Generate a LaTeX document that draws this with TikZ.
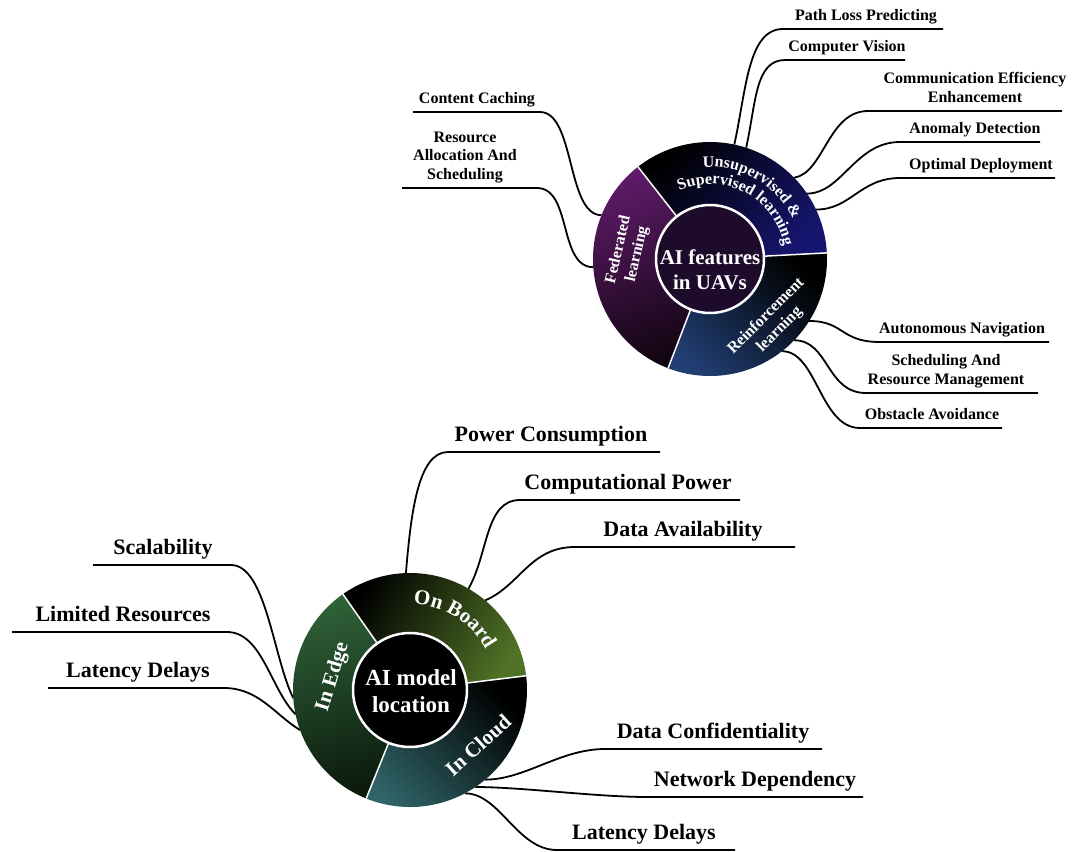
\documentclass[tikz,border=0pt]{standalone}
\usepackage{fontspec}
\setmainfont{Liberation Serif}
\usetikzlibrary{decorations.text}
\definecolor{unsupC}{HTML}{15156E}
\definecolor{fedC}{HTML}{5E1B68}
\definecolor{fedD}{HTML}{120512}
\definecolor{reinC}{HTML}{213E72}
\definecolor{innerA}{HTML}{1E0B2C}
\definecolor{onbC}{HTML}{4F7226}
\definecolor{edgeC}{HTML}{2F6238}
\definecolor{edgeD}{HTML}{0B1A0D}
\definecolor{cloudC}{HTML}{306467}
\begin{document}
\begin{tikzpicture}[x=1pt,y=1pt,
  conn/.style={line width=1.8pt, black, line join=round},
  leafA/.style={anchor=south, inner sep=0pt, align=center, font=\fontsize{16}{18.5}\selectfont\bfseries, execute at end node=\strut},
  leafB/.style={anchor=south, inner sep=0pt, align=center, font=\fontsize{22}{26}\selectfont\bfseries, execute at end node=\strut},
  seglabA/.style={text=white, align=center, inner sep=0pt, font=\fontsize{16}{19}\selectfont\bfseries},
  seglabB/.style={text=white, align=center, inner sep=0pt, font=\fontsize{21}{25}\selectfont\bfseries},
  divider/.style={white, line width=1.5pt},
  hub/.style={circle, inner sep=0pt, outer sep=0pt, minimum size=234pt},
]
\useasboundingbox (0,0) rectangle (1072,-852);
\fill[white] (0,0) rectangle (1072,-852);

\coordinate (c1) at (710,-259);
\coordinate (c2) at (410,-690);
\node[hub] (cA) at (c1) {};
\node[hub] (cB) at (c2) {};

% ---------- top leaves ----------
\coordinate (pl1) at (783,-29); \coordinate (pl2) at (943,-29);
\node[leafA] (pl) at (866,-26) {Path Loss Predicting};
\draw[conn] (pl2) -- (pl1) .. controls +(-35,0) and +(12,55) .. (cA.78);

\coordinate (cv1) at (785,-60); \coordinate (cv2) at (905,-60);
\node[leafA] (cv) at (847,-57) {Computer Vision};
\draw[conn] (cv2) -- (cv1) .. controls +(-30,0) and +(10,45) .. (cA.72);

\coordinate (ce1) at (868,-111); \coordinate (ce2) at (1062,-111);
\node[leafA] (ce) at (975,-108) {Communication Efficiency\\Enhancement};
\draw[conn] (ce2) -- (ce1) .. controls +(-40,0) and +(30,5) .. (cA.44);

\coordinate (ad1) at (900,-142); \coordinate (ad2) at (1040,-142);
\node[leafA] (ad) at (975,-139) {Anomaly Detection};
\draw[conn] (ad2) -- (ad1) .. controls +(-45,0) and +(35,0) .. (cA.34);

\coordinate (od1) at (900,-178); \coordinate (od2) at (1055,-178);
\node[leafA] (od) at (981,-175) {Optimal Deployment};
\draw[conn] (od2) -- (od1) .. controls +(-40,0) and +(35,0) .. (cA.25);

\coordinate (an1) at (880,-342); \coordinate (an2) at (1049,-342);
\node[leafA] (an) at (962,-339) {Autonomous Navigation};
\draw[conn] (cA.-32) .. controls +(35,0) and +(-40,0) .. (an1) -- (an2);

\coordinate (sr1) at (866,-393); \coordinate (sr2) at (1038,-393);
\node[leafA] (sr) at (946,-390) {Scheduling And\\Resource Management};
\draw[conn] (cA.-44) .. controls +(35,0) and +(-40,0) .. (sr1) -- (sr2);

\coordinate (oa1) at (860,-428); \coordinate (oa2) at (1002,-428);
\node[leafA] (oa) at (932,-425) {Obstacle Avoidance};
\draw[conn] (cA.-52) .. controls +(35,0) and +(-40,0) .. (oa1) -- (oa2);

\coordinate (cc1) at (540,-112); \coordinate (cc2) at (413,-112);
\node[leafA] (cc) at (477,-109) {Content Caching};
\draw[conn] (cc2) -- (cc1) .. controls +(35,0) and +(-35,0) .. (cA.158);

\coordinate (ra1) at (537,-188); \coordinate (ra2) at (402,-188);
\node[leafA] (ra) at (465,-185) {Resource\\Allocation And\\Scheduling};
\draw[conn] (ra2) -- (ra1) .. controls +(35,0) and +(-35,0) .. (cA.184);

% ---------- bottom leaves ----------
\coordinate (pc1) at (448,-452); \coordinate (pc2) at (660,-452);
\node[leafB] (pc) at (551,-449) {Power Consumption};
\draw[conn] (pc2) -- (pc1) .. controls +(-30,0) and +(5,60) .. (cB.92);

\coordinate (cp1) at (520,-500); \coordinate (cp2) at (740,-500);
\node[leafB] (cp) at (628,-497) {Computational Power};
\draw[conn] (cp2) -- (cp1) .. controls +(-35,0) and +(20,35) .. (cB.60);

\coordinate (da1) at (575,-547); \coordinate (da2) at (795,-547);
\node[leafB] (da) at (683,-544) {Data Availability};
\draw[conn] (da2) -- (da1) .. controls +(-45,0) and +(35,15) .. (cB.50);

\coordinate (sc1) at (231,-565); \coordinate (sc2) at (93,-565);
\node[leafB] (sc) at (163,-562) {Scalability};
\draw[conn] (sc2) -- (sc1) .. controls +(35,0) and +(-20,40) .. (cB.184);

\coordinate (lr1) at (227,-632); \coordinate (lr2) at (12,-632);
\node[leafB] (lr) at (123,-629) {Limited Resources};
\draw[conn] (lr2) -- (lr1) .. controls +(35,0) and +(-25,25) .. (cB.192);

\coordinate (ll1) at (224,-688); \coordinate (ll2) at (48,-688);
\node[leafB] (ll) at (138,-685) {Latency Delays};
\draw[conn] (ll2) -- (ll1) .. controls +(35,0) and +(-25,15) .. (cB.200);

\coordinate (dc1) at (605,-749); \coordinate (dc2) at (822,-749);
\node[leafB] (dc) at (713,-746) {Data Confidentiality};
\draw[conn] (cB.-50) .. controls +(40,0) and +(-45,0) .. (dc1) -- (dc2);

\coordinate (nd1) at (647,-797); \coordinate (nd2) at (863,-797);
\node[leafB] (nd) at (755,-794) {Network Dependency};
\draw[conn] (cB.-56) .. controls +(45,0) and +(-50,0) .. (nd1) -- (nd2);

\coordinate (lt1) at (557,-850); \coordinate (lt2) at (735,-850);
\node[leafB] (lt) at (644,-847) {Latency Delays};
\draw[conn] (cB.-62) .. controls +(35,0) and +(-40,0) .. (lt1) -- (lt2);

% ---------- top wheel ----------
\shade[top color=black, bottom color=unsupC, shading angle=45]
  (c1) -- ([shift={(3:117)}]c1) arc[start angle=3, end angle=128, radius=117] -- cycle;
\shade[top color=fedC, bottom color=fedD, shading angle=20]
  (c1) -- ([shift={(128:117)}]c1) arc[start angle=128, end angle=249, radius=117] -- cycle;
\shade[top color=black, bottom color=reinC, shading angle=-45]
  (c1) -- ([shift={(249:117)}]c1) arc[start angle=249, end angle=363, radius=117] -- cycle;
\foreach \a in {3,128,249} \draw[divider] ([shift={(\a:54)}]c1) -- ([shift={(\a:117)}]c1);
\draw[white, line width=2.5pt, fill=innerA] (c1) circle[radius=54];
\node[text=white, align=center, inner sep=0pt, font=\fontsize{21}{25}\selectfont\bfseries] (ctA) at (710,-270) {AI features\\in UAVs};

\path[decorate, decoration={text along path, text align=center,
  text={|\color{white}\fontsize{16}{19}\selectfont\bfseries|Unsupervised {\&}}}]
  ([shift={(96:92)}]c1) arc[start angle=96, end angle=24, radius=92];
\path[decorate, decoration={text along path, text align=center,
  text={|\color{white}\fontsize{16}{19}\selectfont\bfseries|Supervised learning}}]
  ([shift={(116:75)}]c1) arc[start angle=116, end angle=8, radius=75];
\node[seglabA, rotate=77] (fedL) at (628,-252) {Federated\\learning};
\node[seglabA, rotate=45] (reinL) at (773,-323) {Reinforcement\\learning};

% ---------- bottom wheel ----------
\shade[top color=black, bottom color=onbC, shading angle=60]
  (c2) -- ([shift={(7:117)}]c2) arc[start angle=7, end angle=125, radius=117] -- cycle;
\shade[top color=edgeC, bottom color=edgeD, shading angle=15]
  (c2) -- ([shift={(125:117)}]c2) arc[start angle=125, end angle=248, radius=117] -- cycle;
\shade[top color=black, bottom color=cloudC, shading angle=-45]
  (c2) -- ([shift={(248:117)}]c2) arc[start angle=248, end angle=367, radius=117] -- cycle;
\foreach \a in {7,125,248} \draw[divider] ([shift={(\a:57)}]c2) -- ([shift={(\a:117)}]c2);
\draw[white, line width=2.5pt, fill=black] (c2) circle[radius=57];
\node[text=white, align=center, inner sep=0pt, font=\fontsize{23}{27}\selectfont\bfseries] (ctB) at (411,-691) {AI model\\location};

\path[decorate, decoration={text along path, text align=center,
  text={|\color{white}\fontsize{21}{25}\selectfont\bfseries|On Board}}]
  ([shift={(98:86)}]c2) arc[start angle=98, end angle=18, radius=86];
\node[seglabB, rotate=73] (edgeL) at (333,-677) {In Edge};
\node[seglabB, rotate=42] (cloudL) at (478,-745) {In Cloud};
\end{tikzpicture}
\end{document}
